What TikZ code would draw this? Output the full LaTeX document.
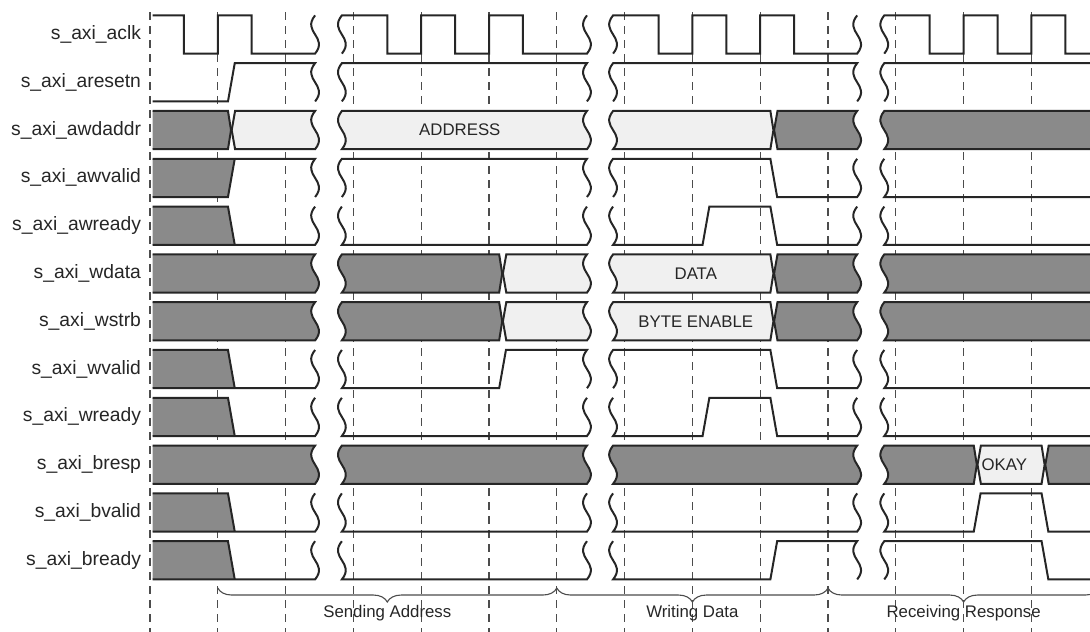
\documentclass[tikz,border=0pt]{standalone}
\usepackage{fontspec}
\setmainfont{Liberation Sans}
\usetikzlibrary{decorations.pathreplacing}

\begin{document}
\begin{tikzpicture}[
  x=67.8pt, y=-47.8pt,
  font=\fontsize{19.3}{23}\selectfont,
  wave/.style={draw=black!85, line width=2pt},
  xbus/.style={wave, fill=black!46},
  xfill/.style={fill=black!46},
  vbus/.style={wave, fill=black!6},
  grid/.style={draw=black!70, line width=1.2pt, dash pattern=on 8pt off 6pt},
  lbl/.style={anchor=east, inner sep=0pt, text=black!85},
  bustxt/.style={font=\fontsize{16.8}{20}\selectfont, text=black!85},
  phase/.style={draw=black!70, line width=1.1pt, decorate, decoration={brace, mirror, amplitude=14pt}},
  breakdn/.style={to path={.. controls +(-0.2,0.35) and +(0.2,-0.35) .. (\tikztotarget)}},
  breakup/.style={to path={.. controls +(0.2,-0.35) and +(-0.2,0.35) .. (\tikztotarget)}}
]
\useasboundingbox (-2.2124,-0.7218) rectangle (13.8643,12.5);
\clip (-2.2124,-0.7218) rectangle (13.8643,12.5);

\foreach \k in {0,...,13}
  \draw[grid] (\k,-0.47) -- (\k,12.6);

% signal names
\node[lbl] (aclk) at (-0.13,0) {s\_axi\_aclk};
\node[lbl] (aresetn) at (-0.13,1) {s\_axi\_aresetn};
\node[lbl] (awdaddr) at (-0.13,2) {s\_axi\_awdaddr};
\node[lbl] (awvalid) at (-0.13,3) {s\_axi\_awvalid};
\node[lbl] (awready) at (-0.13,4) {s\_axi\_awready};
\node[lbl] (wdata) at (-0.13,5) {s\_axi\_wdata};
\node[lbl] (wstrb) at (-0.13,6) {s\_axi\_wstrb};
\node[lbl] (wvalid) at (-0.13,7) {s\_axi\_wvalid};
\node[lbl] (wready) at (-0.13,8) {s\_axi\_wready};
\node[lbl] (bresp) at (-0.13,9) {s\_axi\_bresp};
\node[lbl] (bvalid) at (-0.13,10) {s\_axi\_bvalid};
\node[lbl] (bready) at (-0.13,11) {s\_axi\_bready};

% clock
\draw[wave] (0.04,-0.4) -| (0.5,0.4) -| (1,-0.4) -| (1.5,0.4) -- (2.435,0.4) to[breakup] (2.435,-0.4);
\draw[wave] (2.83,0.4) to[breakup] (2.83,-0.4) -| (3.5,0.4) -| (4,-0.4) -| (4.5,0.4) -| (5,-0.4) -| (5.5,0.4) -- (6.445,0.4) to[breakup] (6.445,-0.4);
\draw[wave] (6.83,0.4) to[breakup] (6.83,-0.4) -| (7.5,0.4) -| (8,-0.4) -| (8.5,0.4) -| (9,-0.4) -| (9.5,0.4) -- (10.43,0.4) to[breakup] (10.43,-0.4);
\draw[wave] (10.83,0.4) to[breakup] (10.83,-0.4) -| (11.5,0.4) -| (12,-0.4) -| (12.5,0.4) -| (13,-0.4) -| (13.5,0.4) -- (14.2,0.4);

% reset
\draw[wave] (0.04,1.4) -- (1.15,1.4) -- (1.25,0.6) -- (2.435,0.6) to[breakdn] (2.435,1.4);
\draw[wave] (2.83,1.4) to[breakup] (2.83,0.6) -- (6.445,0.6) to[breakdn] (6.445,1.4);
\draw[wave] (6.83,1.4) to[breakup] (6.83,0.6) -- (10.43,0.6) to[breakdn] (10.43,1.4);
\draw[wave] (10.83,1.4) to[breakup] (10.83,0.6) -- (14.2,0.6);

% address bus
\filldraw[xbus] (0.04,1.6) -- (1.15,1.6) -- (1.195,2) -- (1.15,2.4) -- (0.04,2.4);
\filldraw[vbus] (2.435,2.4) to[breakup] (2.435,1.6) -- (1.255,1.6) -- (1.205,2) -- (1.255,2.4) -- cycle;
\filldraw[vbus] (2.83,2.4) to[breakup] (2.83,1.6) -- (6.445,1.6) to[breakdn] (6.445,2.4) -- cycle;
\filldraw[vbus] (6.83,2.4) to[breakup] (6.83,1.6) -- (9.15,1.6) -- (9.195,2) -- (9.15,2.4) -- cycle;
\filldraw[xbus] (9.255,1.6) -- (10.43,1.6) to[breakdn] (10.43,2.4) -- (9.255,2.4) -- (9.205,2) -- cycle;
\node[bustxt] (addr) at (4.57,2) {ADDRESS};

% unknown after reset, then high
\fill[xfill] (0.04,2.6) -- (1.25,2.6) -- (1.15,3.4) -- (0.04,3.4) -- cycle;
\draw[wave] (0.04,3.4) -- (1.15,3.4) -- (1.25,2.6);
\draw[wave] (0.04,2.6) -- (2.435,2.6) to[breakdn] (2.435,3.4);
\draw[wave] (2.83,3.4) to[breakup] (2.83,2.6) -- (6.445,2.6) to[breakdn] (6.445,3.4);

% unknown after reset, then low
\foreach \r in {4,7,8,10,11} {
  \fill[xfill] (0.04,\r-0.4) -- (1.15,\r-0.4) -- (1.25,\r+0.4) -- (0.04,\r+0.4) -- cycle;
  \draw[wave] (0.04,\r-0.4) -- (1.15,\r-0.4) -- (1.25,\r+0.4);
  \draw[wave] (0.04,\r+0.4) -- (2.435,\r+0.4) to[breakup] (2.435,\r-0.4);
}
\foreach \r in {4,8,10,11}
  \draw[wave] (2.83,\r-0.4) to[breakdn] (2.83,\r+0.4) -- (6.445,\r+0.4) to[breakup] (6.445,\r-0.4);
\foreach \r in {3,4,7,8}
  \draw[wave] (10.83,\r-0.4) to[breakdn] (10.83,\r+0.4) -- (14.2,\r+0.4);

% valid drops after the handshake
\foreach \r in {3,7}
  \draw[wave] (6.83,\r+0.4) to[breakup] (6.83,\r-0.4) -- (9.15,\r-0.4) -- (9.25,\r+0.4) -- (10.43,\r+0.4) to[breakup] (10.43,\r-0.4);
\draw[wave] (2.83,6.6) to[breakdn] (2.83,7.4) -- (5.15,7.4) -- (5.25,6.6) -- (6.445,6.6) to[breakdn] (6.445,7.4);

% ready pulses
\foreach \r in {4,8}
  \draw[wave] (6.83,\r-0.4) to[breakdn] (6.83,\r+0.4) -- (8.15,\r+0.4) -- (8.25,\r-0.4) -- (9.15,\r-0.4) -- (9.25,\r+0.4) -- (10.43,\r+0.4) to[breakup] (10.43,\r-0.4);

% data and strobe
\foreach \r in {5,6} {
  \filldraw[xbus] (2.83,\r+0.4) to[breakup] (2.83,\r-0.4) -- (5.15,\r-0.4) -- (5.195,\r) -- (5.15,\r+0.4) -- cycle;
  \filldraw[vbus] (5.255,\r-0.4) -- (6.445,\r-0.4) to[breakdn] (6.445,\r+0.4) -- (5.255,\r+0.4) -- (5.205,\r) -- cycle;
  \filldraw[vbus] (6.83,\r+0.4) to[breakup] (6.83,\r-0.4) -- (9.15,\r-0.4) -- (9.195,\r) -- (9.15,\r+0.4) -- cycle;
  \filldraw[xbus] (9.255,\r-0.4) -- (10.43,\r-0.4) to[breakdn] (10.43,\r+0.4) -- (9.255,\r+0.4) -- (9.205,\r) -- cycle;
}
\node[bustxt] (data) at (8.05,5) {DATA};
\node[bustxt] (strb) at (8.05,6) {BYTE ENABLE};

% buses unknown over whole stretches
\foreach \r in {5,6,9}
  \filldraw[xbus] (0.04,\r-0.4) -- (2.435,\r-0.4) to[breakdn] (2.435,\r+0.4) -- (0.04,\r+0.4);
\foreach \r in {2,5,6}
  \filldraw[xbus] (10.83,\r+0.4) to[breakup] (10.83,\r-0.4) -- (14.2,\r-0.4) -- (14.2,\r+0.4) -- cycle;
\filldraw[xbus] (2.83,9.4) to[breakup] (2.83,8.6) -- (6.445,8.6) to[breakdn] (6.445,9.4) -- cycle;
\filldraw[xbus] (6.83,9.4) to[breakup] (6.83,8.6) -- (10.43,8.6) to[breakdn] (10.43,9.4) -- cycle;

% response
\filldraw[xbus] (10.83,9.4) to[breakup] (10.83,8.6) -- (12.15,8.6) -- (12.195,9) -- (12.15,9.4) -- cycle;
\filldraw[vbus] (12.255,8.6) -- (13.15,8.6) -- (13.195,9) -- (13.15,9.4) -- (12.255,9.4) -- (12.205,9) -- cycle;
\filldraw[xbus] (13.255,8.6) -- (14.2,8.6) -- (14.2,9.4) -- (13.255,9.4) -- (13.205,9) -- cycle;
\node[bustxt] (okay) at (12.6,9) {OKAY};

\draw[wave] (6.83,9.6) to[breakdn] (6.83,10.4) -- (10.43,10.4) to[breakup] (10.43,9.6);
\draw[wave] (10.83,9.6) to[breakdn] (10.83,10.4) -- (12.15,10.4) -- (12.25,9.6) -- (13.15,9.6) -- (13.25,10.4) -- (14.2,10.4);
\draw[wave] (6.83,10.6) to[breakdn] (6.83,11.4) -- (9.15,11.4) -- (9.25,10.6) -- (10.43,10.6) to[breakdn] (10.43,11.4);
\draw[wave] (10.83,11.4) to[breakup] (10.83,10.6) -- (13.15,10.6) -- (13.25,11.4) -- (14.2,11.4);

% phases
\coordinate (ph0) at (1,11.58);
\coordinate (ph1) at (6,11.58);
\coordinate (ph2) at (10,11.58);
\coordinate (ph3) at (14,11.58);
\draw[phase] (ph0) -- (ph1);
\draw[phase] (ph1) -- (ph2);
\draw[phase] (ph2) -- (ph3);
\node[bustxt] (send) at (3.5,12.1) {Sending Address};
\node[bustxt] (write) at (8,12.1) {Writing Data};
\node[bustxt] (resp) at (12,12.1) {Receiving Response};

\end{tikzpicture}
\end{document}
